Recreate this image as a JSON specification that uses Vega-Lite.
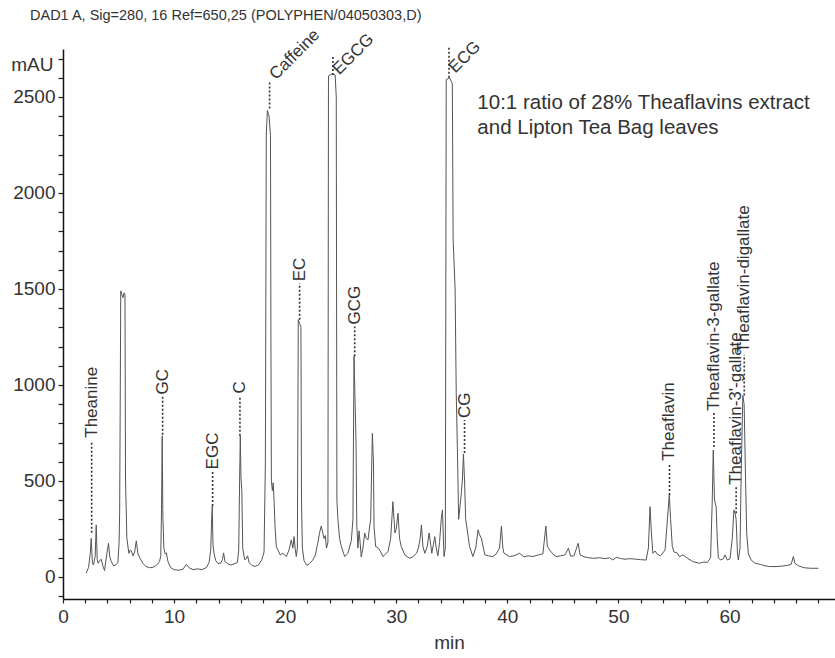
{
  "$schema": "https://vega.github.io/schema/vega-lite/v6.json",
  "width": 772,
  "height": 550,
  "autosize": {"type": "none"},
  "padding": {"left": 63, "top": 49, "right": 0, "bottom": 59},
  "background": "white",
  "config": {"view": {"stroke": null}, "font": "Liberation Sans"},
  "title": {
    "text": "DAD1 A, Sig=280, 16 Ref=650,25 (POLYPHEN/04050303,D)",
    "anchor": "start",
    "frame": "group",
    "fontSize": 14.5,
    "fontWeight": "normal",
    "font": "Liberation Sans",
    "color": "#333333",
    "baseline": "alphabetic",
    "dx": -33,
    "dy": 11,
    "offset": 2
  },
  "datasets": {
    "trace": [
      {"t": 2.09, "mAU": 19}, {"t": 2.3, "mAU": 50}, {"t": 2.45, "mAU": 120}, {"t": 2.54, "mAU": 201}, {"t": 2.65, "mAU": 70},
      {"t": 2.75, "mAU": 62}, {"t": 2.9, "mAU": 110}, {"t": 2.99, "mAU": 271}, {"t": 3.08, "mAU": 90}, {"t": 3.17, "mAU": 71},
      {"t": 3.3, "mAU": 85}, {"t": 3.44, "mAU": 92}, {"t": 3.6, "mAU": 55}, {"t": 3.74, "mAU": 33}, {"t": 3.95, "mAU": 123},
      {"t": 4.1, "mAU": 175}, {"t": 4.2, "mAU": 110}, {"t": 4.31, "mAU": 85}, {"t": 4.55, "mAU": 57}, {"t": 4.8, "mAU": 65},
      {"t": 4.94, "mAU": 75}, {"t": 5.05, "mAU": 180}, {"t": 5.1, "mAU": 332}, {"t": 5.15, "mAU": 900}, {"t": 5.2, "mAU": 1490},
      {"t": 5.3, "mAU": 1470}, {"t": 5.4, "mAU": 1455}, {"t": 5.5, "mAU": 1480}, {"t": 5.58, "mAU": 1470}, {"t": 5.63, "mAU": 500},
      {"t": 5.68, "mAU": 380}, {"t": 5.75, "mAU": 200}, {"t": 5.93, "mAU": 123}, {"t": 6.05, "mAU": 140}, {"t": 6.14, "mAU": 137},
      {"t": 6.3, "mAU": 110}, {"t": 6.45, "mAU": 130}, {"t": 6.6, "mAU": 188}, {"t": 6.75, "mAU": 120}, {"t": 6.95, "mAU": 95},
      {"t": 7.2, "mAU": 70}, {"t": 7.45, "mAU": 55}, {"t": 7.8, "mAU": 48}, {"t": 8.1, "mAU": 50}, {"t": 8.4, "mAU": 60},
      {"t": 8.69, "mAU": 80}, {"t": 8.8, "mAU": 110}, {"t": 8.87, "mAU": 350}, {"t": 8.93, "mAU": 735}, {"t": 8.99, "mAU": 320},
      {"t": 9.08, "mAU": 150}, {"t": 9.2, "mAU": 120}, {"t": 9.3, "mAU": 125}, {"t": 9.45, "mAU": 80}, {"t": 9.7, "mAU": 48},
      {"t": 10.0, "mAU": 38}, {"t": 10.4, "mAU": 35}, {"t": 10.8, "mAU": 40}, {"t": 11.1, "mAU": 65}, {"t": 11.35, "mAU": 48},
      {"t": 11.7, "mAU": 38}, {"t": 12.1, "mAU": 42}, {"t": 12.5, "mAU": 38}, {"t": 12.9, "mAU": 48}, {"t": 13.15, "mAU": 75},
      {"t": 13.3, "mAU": 140}, {"t": 13.38, "mAU": 300}, {"t": 13.44, "mAU": 370}, {"t": 13.5, "mAU": 170}, {"t": 13.6, "mAU": 120},
      {"t": 13.75, "mAU": 85}, {"t": 13.95, "mAU": 70}, {"t": 14.2, "mAU": 72}, {"t": 14.35, "mAU": 90}, {"t": 14.46, "mAU": 125},
      {"t": 14.58, "mAU": 80}, {"t": 14.8, "mAU": 70}, {"t": 15.1, "mAU": 62}, {"t": 15.4, "mAU": 68}, {"t": 15.7, "mAU": 75},
      {"t": 15.82, "mAU": 140}, {"t": 15.9, "mAU": 500}, {"t": 15.96, "mAU": 735}, {"t": 16.02, "mAU": 520}, {"t": 16.1, "mAU": 450},
      {"t": 16.18, "mAU": 150}, {"t": 16.35, "mAU": 90}, {"t": 16.5, "mAU": 95}, {"t": 16.62, "mAU": 110}, {"t": 16.75, "mAU": 75},
      {"t": 17.0, "mAU": 60}, {"t": 17.3, "mAU": 55}, {"t": 17.6, "mAU": 62}, {"t": 17.9, "mAU": 90}, {"t": 18.1, "mAU": 130},
      {"t": 18.22, "mAU": 600}, {"t": 18.3, "mAU": 2300}, {"t": 18.4, "mAU": 2430}, {"t": 18.55, "mAU": 2400}, {"t": 18.68, "mAU": 2300},
      {"t": 18.72, "mAU": 1200}, {"t": 18.76, "mAU": 500}, {"t": 18.85, "mAU": 450}, {"t": 18.92, "mAU": 490}, {"t": 19.0, "mAU": 400},
      {"t": 19.1, "mAU": 250}, {"t": 19.2, "mAU": 160}, {"t": 19.35, "mAU": 140}, {"t": 19.55, "mAU": 115}, {"t": 19.8, "mAU": 123},
      {"t": 20.1, "mAU": 106}, {"t": 20.35, "mAU": 140}, {"t": 20.55, "mAU": 193}, {"t": 20.7, "mAU": 150}, {"t": 20.8, "mAU": 210},
      {"t": 20.9, "mAU": 150}, {"t": 21.0, "mAU": 106}, {"t": 21.1, "mAU": 150}, {"t": 21.18, "mAU": 1340}, {"t": 21.3, "mAU": 1320},
      {"t": 21.42, "mAU": 1300}, {"t": 21.47, "mAU": 400}, {"t": 21.55, "mAU": 150}, {"t": 21.7, "mAU": 85}, {"t": 21.95, "mAU": 60},
      {"t": 22.2, "mAU": 70}, {"t": 22.45, "mAU": 85}, {"t": 22.7, "mAU": 110}, {"t": 22.95, "mAU": 180}, {"t": 23.1, "mAU": 230},
      {"t": 23.25, "mAU": 265}, {"t": 23.35, "mAU": 240}, {"t": 23.5, "mAU": 200}, {"t": 23.62, "mAU": 215}, {"t": 23.72, "mAU": 150},
      {"t": 23.85, "mAU": 180}, {"t": 23.9, "mAU": 2610}, {"t": 24.2, "mAU": 2620}, {"t": 24.5, "mAU": 2615}, {"t": 24.6, "mAU": 2500},
      {"t": 24.66, "mAU": 400}, {"t": 24.75, "mAU": 300}, {"t": 24.9, "mAU": 200}, {"t": 25.06, "mAU": 158}, {"t": 25.36, "mAU": 106},
      {"t": 25.65, "mAU": 123}, {"t": 25.96, "mAU": 190}, {"t": 26.1, "mAU": 300}, {"t": 26.2, "mAU": 1150}, {"t": 26.3, "mAU": 900},
      {"t": 26.38, "mAU": 700}, {"t": 26.45, "mAU": 270}, {"t": 26.55, "mAU": 150}, {"t": 26.65, "mAU": 240}, {"t": 26.75, "mAU": 180},
      {"t": 26.85, "mAU": 104}, {"t": 27.0, "mAU": 150}, {"t": 27.16, "mAU": 229}, {"t": 27.3, "mAU": 200}, {"t": 27.46, "mAU": 193},
      {"t": 27.6, "mAU": 260}, {"t": 27.7, "mAU": 300}, {"t": 27.85, "mAU": 748}, {"t": 27.95, "mAU": 600}, {"t": 28.0, "mAU": 262},
      {"t": 28.15, "mAU": 158}, {"t": 28.4, "mAU": 150}, {"t": 28.6, "mAU": 130}, {"t": 28.8, "mAU": 106}, {"t": 29.05, "mAU": 120},
      {"t": 29.26, "mAU": 132}, {"t": 29.5, "mAU": 200}, {"t": 29.7, "mAU": 392}, {"t": 29.8, "mAU": 300}, {"t": 29.88, "mAU": 229},
      {"t": 30.0, "mAU": 250}, {"t": 30.16, "mAU": 332}, {"t": 30.3, "mAU": 200}, {"t": 30.45, "mAU": 158}, {"t": 30.77, "mAU": 115},
      {"t": 31.2, "mAU": 97}, {"t": 31.5, "mAU": 105}, {"t": 31.82, "mAU": 123}, {"t": 32.0, "mAU": 150}, {"t": 32.15, "mAU": 200},
      {"t": 32.27, "mAU": 271}, {"t": 32.4, "mAU": 160}, {"t": 32.57, "mAU": 123}, {"t": 32.8, "mAU": 160}, {"t": 32.96, "mAU": 229},
      {"t": 33.1, "mAU": 170}, {"t": 33.2, "mAU": 123}, {"t": 33.35, "mAU": 170}, {"t": 33.47, "mAU": 210}, {"t": 33.6, "mAU": 150},
      {"t": 33.75, "mAU": 110}, {"t": 33.9, "mAU": 180}, {"t": 34.05, "mAU": 300}, {"t": 34.16, "mAU": 349}, {"t": 34.3, "mAU": 106},
      {"t": 34.42, "mAU": 150}, {"t": 34.5, "mAU": 2590}, {"t": 34.8, "mAU": 2600}, {"t": 35.05, "mAU": 2570}, {"t": 35.12, "mAU": 1760},
      {"t": 35.3, "mAU": 1500}, {"t": 35.4, "mAU": 960}, {"t": 35.5, "mAU": 680}, {"t": 35.62, "mAU": 300}, {"t": 35.8, "mAU": 400},
      {"t": 35.95, "mAU": 500}, {"t": 36.05, "mAU": 640}, {"t": 36.15, "mAU": 500}, {"t": 36.25, "mAU": 300}, {"t": 36.35, "mAU": 262},
      {"t": 36.6, "mAU": 158}, {"t": 36.9, "mAU": 106}, {"t": 37.15, "mAU": 150}, {"t": 37.37, "mAU": 245}, {"t": 37.5, "mAU": 220},
      {"t": 37.67, "mAU": 201}, {"t": 37.97, "mAU": 115}, {"t": 38.3, "mAU": 110}, {"t": 38.7, "mAU": 106}, {"t": 39.0, "mAU": 120},
      {"t": 39.3, "mAU": 150}, {"t": 39.47, "mAU": 265}, {"t": 39.6, "mAU": 150}, {"t": 39.7, "mAU": 123}, {"t": 40.2, "mAU": 106},
      {"t": 40.6, "mAU": 110}, {"t": 41.1, "mAU": 123}, {"t": 41.5, "mAU": 105}, {"t": 41.9, "mAU": 110}, {"t": 42.3, "mAU": 106},
      {"t": 42.8, "mAU": 115}, {"t": 43.2, "mAU": 120}, {"t": 43.47, "mAU": 265}, {"t": 43.6, "mAU": 160}, {"t": 43.8, "mAU": 141},
      {"t": 44.1, "mAU": 120}, {"t": 44.4, "mAU": 106}, {"t": 44.8, "mAU": 110}, {"t": 45.2, "mAU": 115}, {"t": 45.5, "mAU": 150},
      {"t": 45.7, "mAU": 108}, {"t": 46.0, "mAU": 110}, {"t": 46.38, "mAU": 175}, {"t": 46.55, "mAU": 115}, {"t": 46.9, "mAU": 105},
      {"t": 47.3, "mAU": 100}, {"t": 47.8, "mAU": 97}, {"t": 48.3, "mAU": 100}, {"t": 48.8, "mAU": 95}, {"t": 49.2, "mAU": 100},
      {"t": 49.5, "mAU": 88}, {"t": 49.8, "mAU": 102}, {"t": 50.2, "mAU": 96}, {"t": 50.6, "mAU": 92}, {"t": 51.0, "mAU": 95},
      {"t": 51.5, "mAU": 93}, {"t": 52.0, "mAU": 90}, {"t": 52.5, "mAU": 88}, {"t": 52.7, "mAU": 150}, {"t": 52.85, "mAU": 366},
      {"t": 52.95, "mAU": 250}, {"t": 53.1, "mAU": 123}, {"t": 53.3, "mAU": 135}, {"t": 53.5, "mAU": 118}, {"t": 53.8, "mAU": 110},
      {"t": 54.2, "mAU": 140}, {"t": 54.35, "mAU": 250}, {"t": 54.58, "mAU": 427}, {"t": 54.7, "mAU": 300}, {"t": 54.85, "mAU": 160},
      {"t": 55.0, "mAU": 130}, {"t": 55.3, "mAU": 125}, {"t": 55.5, "mAU": 105}, {"t": 55.8, "mAU": 115}, {"t": 56.2, "mAU": 98},
      {"t": 56.7, "mAU": 80}, {"t": 57.3, "mAU": 71}, {"t": 57.7, "mAU": 78}, {"t": 58.0, "mAU": 75}, {"t": 58.3, "mAU": 100},
      {"t": 58.45, "mAU": 400}, {"t": 58.54, "mAU": 661}, {"t": 58.65, "mAU": 400}, {"t": 58.8, "mAU": 366}, {"t": 58.9, "mAU": 200},
      {"t": 59.0, "mAU": 100}, {"t": 59.2, "mAU": 88}, {"t": 59.45, "mAU": 95}, {"t": 59.6, "mAU": 115}, {"t": 59.8, "mAU": 88},
      {"t": 60.05, "mAU": 95}, {"t": 60.25, "mAU": 200}, {"t": 60.4, "mAU": 349}, {"t": 60.5, "mAU": 332}, {"t": 60.6, "mAU": 300},
      {"t": 60.72, "mAU": 120}, {"t": 60.8, "mAU": 88}, {"t": 60.95, "mAU": 150}, {"t": 61.05, "mAU": 522}, {"t": 61.2, "mAU": 945},
      {"t": 61.32, "mAU": 900}, {"t": 61.45, "mAU": 500}, {"t": 61.55, "mAU": 229}, {"t": 61.7, "mAU": 120}, {"t": 61.95, "mAU": 88},
      {"t": 62.3, "mAU": 71}, {"t": 62.8, "mAU": 65}, {"t": 63.2, "mAU": 58}, {"t": 63.6, "mAU": 54}, {"t": 64.2, "mAU": 54},
      {"t": 64.7, "mAU": 56}, {"t": 65.2, "mAU": 60}, {"t": 65.55, "mAU": 65}, {"t": 65.75, "mAU": 106}, {"t": 65.9, "mAU": 70},
      {"t": 66.2, "mAU": 58}, {"t": 66.7, "mAU": 48}, {"t": 67.3, "mAU": 45}, {"t": 68.0, "mAU": 45}
    ],
    "peaks": [
      {"name": "Theanine", "t": 2.58, "y0": 230, "y1": 700, "ty": 725},
      {"name": "GC", "t": 8.97, "y0": 740, "y1": 940, "ty": 950},
      {"name": "EGC", "t": 13.47, "y0": 370, "y1": 548, "ty": 560},
      {"name": "C", "t": 15.93, "y0": 735, "y1": 940, "ty": 955},
      {"name": "Caffeine", "t": 18.6, "y0": 2440, "y1": 2580, "ty": 2590},
      {"name": "EC", "t": 21.3, "y0": 1340, "y1": 1530, "ty": 1540},
      {"name": "EGCG", "t": 24.3, "y0": 2615, "y1": 2710, "ty": 2615},
      {"name": "GCG", "t": 26.26, "y0": 1150, "y1": 1305, "ty": 1315},
      {"name": "ECG", "t": 34.75, "y0": 2600, "y1": 2760, "ty": 2625},
      {"name": "CG", "t": 36.15, "y0": 646, "y1": 818, "ty": 828},
      {"name": "Theaflavin", "t": 54.6, "y0": 427, "y1": 594, "ty": 605},
      {"name": "Theaflavin-3-gallate", "t": 58.6, "y0": 677, "y1": 854, "ty": 865},
      {"name": "Theaflavin-3'-gallate", "t": 60.6, "y0": 332, "y1": 469, "ty": 480},
      {"name": "Theaflavin-digallate", "t": 61.33, "y0": 945, "y1": 1156, "ty": 1168}
    ],
    "notes": [
      {"t": 37.3, "v": 2469, "text": "10:1 ratio of 28% Theaflavins extract"},
      {"t": 37.3, "v": 2339, "text": "and Lipton Tea Bag leaves"}
    ]
  },
  "encoding": {
    "x": {
      "field": "t",
      "type": "quantitative",
      "scale": {"domain": [0, 69.5], "nice": false, "zero": false},
      "axis": {
        "values": [0, 2, 4, 6, 8, 10, 12, 14, 16, 18, 20, 22, 24, 26, 28, 30, 32, 34, 36, 38, 40, 42, 44, 46, 48, 50, 52, 54, 56, 58, 60, 62, 64, 66, 68],
        "tickCount": 1000,
        "labelExpr": "datum.value % 10 === 0 ? datum.label : ''",
        "format": "d",
        "title": "min",
        "titleFontSize": 19,
        "titleFont": "Liberation Sans",
        "titleFontWeight": "normal",
        "titleColor": "#333333",
        "titlePadding": 7,
        "labelFont": "Liberation Sans",
        "labelFontSize": 19,
        "labelColor": "#333333",
        "labelPadding": 4,
        "labelFlush": false,
        "labelOverlap": false,
        "tickSize": 4,
        "tickColor": "#222222",
        "tickWidth": 1.2,
        "domainColor": "#111111",
        "domainWidth": 1.5,
        "grid": false
      }
    },
    "y": {
      "field": "mAU",
      "type": "quantitative",
      "scale": {"domain": [-115, 2750], "nice": false, "zero": false},
      "axis": {
        "values": [-100, 0, 100, 200, 300, 400, 500, 600, 700, 800, 900, 1000, 1100, 1200, 1300, 1400, 1500, 1600, 1700, 1800, 1900, 2000, 2100, 2200, 2300, 2400, 2500, 2600, 2700],
        "tickCount": 1000,
        "labelExpr": "datum.value % 500 === 0 ? datum.label : ''",
        "format": "d",
        "title": "mAU",
        "titleAngle": 0,
        "titleAlign": "right",
        "titleBaseline": "middle",
        "titleX": -10,
        "titleY": 15,
        "titleFontSize": 19,
        "titleFont": "Liberation Sans",
        "titleFontWeight": "normal",
        "titleColor": "#333333",
        "labelFont": "Liberation Sans",
        "labelFontSize": 19,
        "labelColor": "#333333",
        "labelPadding": 3,
        "labelOverlap": false,
        "labelFlush": false,
        "tickSize": 5,
        "tickColor": "#222222",
        "tickWidth": 1.2,
        "domainColor": "#111111",
        "domainWidth": 1.5,
        "grid": false
      }
    }
  },
  "layer": [
    {
      "data": {"name": "trace"},
      "mark": {"type": "line", "color": "#555555", "strokeWidth": 1}
    },
    {
      "data": {"name": "peaks"},
      "mark": {"type": "rule", "color": "#333333", "strokeWidth": 1.6, "strokeDash": [2, 2]},
      "encoding": {
        "y": {"field": "y0", "type": "quantitative"},
        "y2": {"field": "y1"}
      }
    },
    {
      "data": {"name": "peaks"},
      "transform": [{"filter": {"not": {"field": "name", "oneOf": ["Caffeine", "EGCG", "ECG"]}}}],
      "mark": {"type": "text", "angle": 270, "align": "left", "baseline": "middle", "fontSize": 17, "font": "Liberation Sans", "color": "#333333"},
      "encoding": {
        "y": {"field": "ty", "type": "quantitative"},
        "text": {"field": "name"}
      }
    },
    {
      "data": {"name": "peaks"},
      "transform": [{"filter": {"field": "name", "oneOf": ["Caffeine", "EGCG", "ECG"]}}],
      "mark": {"type": "text", "angle": 315, "align": "left", "baseline": "middle", "dx": 4, "fontSize": 17, "font": "Liberation Sans", "color": "#333333"},
      "encoding": {
        "y": {"field": "ty", "type": "quantitative"},
        "text": {"field": "name"}
      }
    },
    {
      "data": {"name": "notes"},
      "mark": {"type": "text", "align": "left", "baseline": "middle", "fontSize": 20.5, "font": "Liberation Sans", "color": "#333333"},
      "encoding": {
        "y": {"field": "v", "type": "quantitative"},
        "text": {"field": "text"}
      }
    }
  ]
}
